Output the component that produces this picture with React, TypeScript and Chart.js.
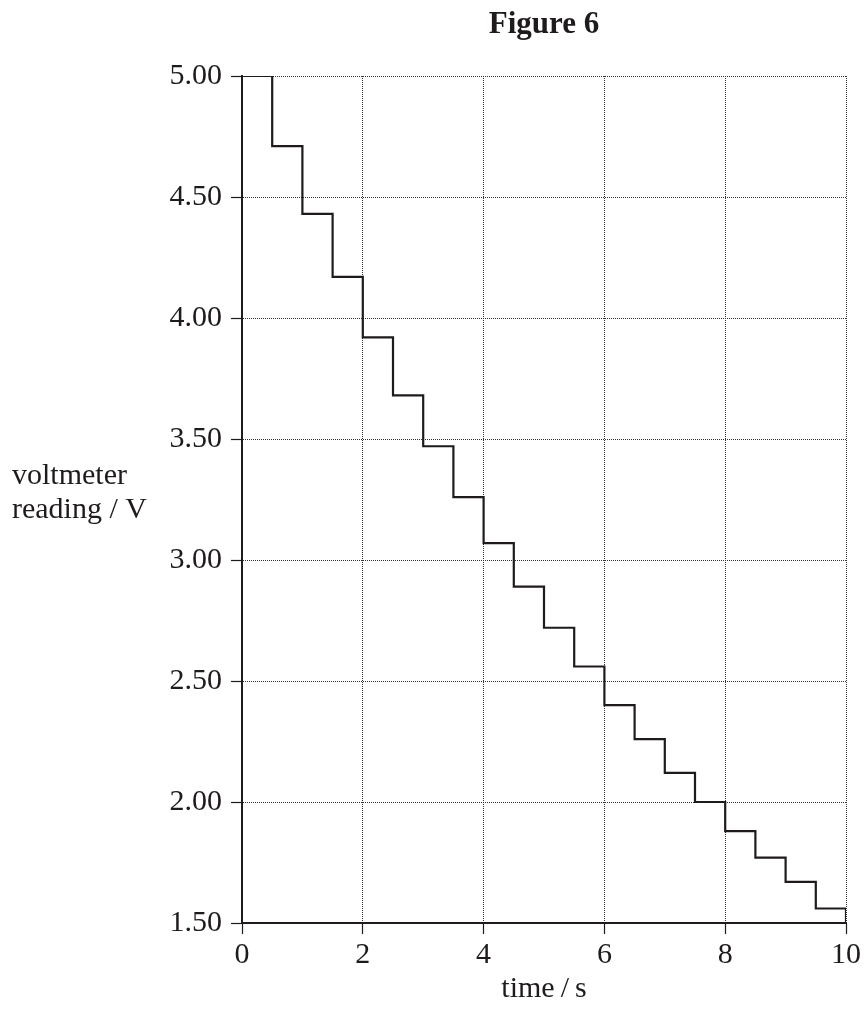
import React, { useEffect, useRef } from "react";
import { Chart, registerables } from "chart.js";

Chart.register(...registerables);

const timeSeconds = [0, 0.5, 1, 1.5, 2, 2.5, 3, 3.5, 4, 4.5, 5, 5.5, 6, 6.5, 7, 7.5, 8, 8.5, 9, 9.5, 10];
const voltmeterReading = [5.0, 4.71, 4.43, 4.17, 3.92, 3.68, 3.47, 3.26, 3.07, 2.89, 2.72, 2.56, 2.4, 2.26, 2.12, 2.0, 1.88, 1.77, 1.67, 1.56, 1.5];
const titleText = "Figure 6";
const xAxisTitle = "time\u2009/\u2009s";
const yAxisTitleLines = ["voltmeter", "reading / V"];

const INK = "#1f1b1c";
const FONT = "'Liberation Serif', 'Times New Roman', serif";

export default function App() {
  const canvasRef = useRef<HTMLCanvasElement | null>(null);

  useEffect(() => {
    const canvas = canvasRef.current;
    if (!canvas) return;

    const yLabelPlugin = {
      id: "yLabelPlugin",
      afterDraw(chart: any) {
        const ctx = chart.ctx;
        ctx.save();
        ctx.fillStyle = INK;
        ctx.font = `30px ${FONT}`;
        ctx.textAlign = "left";
        ctx.textBaseline = "alphabetic";
        ctx.fillText(yAxisTitleLines[0], 12, 484);
        ctx.fillText(yAxisTitleLines[1], 12, 518);
        ctx.restore();
      },
    };

    const chart = new Chart(canvas, {
      type: "line",
      data: {
        datasets: [
          {
            data: timeSeconds.map((t, i) => ({ x: t, y: voltmeterReading[i] })),
            borderColor: INK,
            borderWidth: 2.2,
            pointRadius: 0,
            stepped: "before",
            fill: false,
          },
        ],
      },
      options: {
        animation: false,
        responsive: false,
        devicePixelRatio: 1,
        layout: { padding: { left: 0, right: 18, top: 0, bottom: 0 } },
        plugins: {
          legend: { display: false },
          tooltip: { enabled: false },
          title: {
            display: true,
            text: titleText,
            fullSize: false,
            color: INK,
            font: { family: FONT, size: 31, weight: "bold", lineHeight: 1.2 },
            padding: { top: 6, bottom: 32.8 },
          },
        },
        scales: {
          x: {
            type: "linear",
            min: 0,
            max: 10,
            afterFit(scale: any) {
              scale.height = 100;
            },
            ticks: {
              stepSize: 2,
              color: INK,
              padding: 3,
              maxRotation: 0,
              font: { family: FONT, size: 30 },
            },
            grid: {
              color: "#333",
              lineWidth: 1,
              tickLength: 11,
              tickColor: INK,
              tickWidth: 1.2,
            },
            border: { display: true, color: INK, width: 2, dash: [1, 1] },
            title: {
              display: true,
              text: xAxisTitle,
              color: INK,
              font: { family: FONT, size: 30, lineHeight: 1.2 },
              padding: { top: 0, bottom: 16 },
            },
          },
          y: {
            type: "linear",
            min: 1.5,
            max: 5,
            afterFit(scale: any) {
              scale.width = 242;
            },
            ticks: {
              stepSize: 0.5,
              color: INK,
              padding: 9,
              font: { family: FONT, size: 30 },
              callback: (v: any) => Number(v).toFixed(2),
            },
            grid: {
              color: "#333",
              lineWidth: 1,
              tickLength: 11,
              tickColor: INK,
              tickWidth: 1.2,
            },
            border: { display: true, color: INK, width: 2, dash: [1, 1] },
          },
        },
      },
      plugins: [yLabelPlugin],
    });

    return () => chart.destroy();
  }, []);

  return (
    <div style={{ position: "absolute", left: 0, top: 0, width: 864, height: 1023, background: "#fff" }}>
      <canvas ref={canvasRef} width={864} height={1023} style={{ width: 864, height: 1023, display: "block" }} />
    </div>
  );
}
